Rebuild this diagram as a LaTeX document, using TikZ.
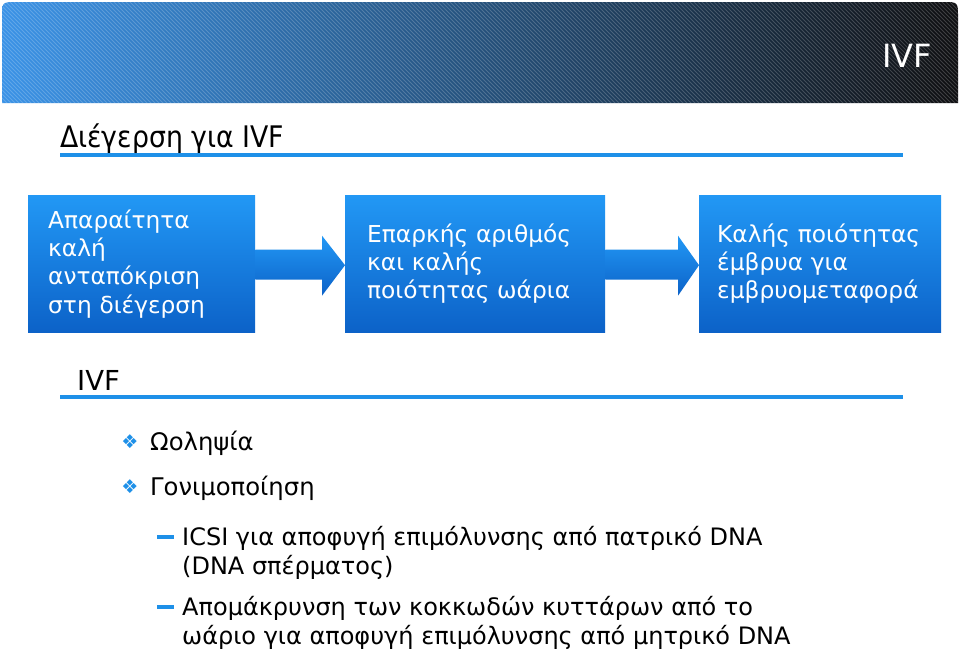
\documentclass[tikz,border=0pt]{standalone}
\usepackage{fontspec}
\setmainfont{DejaVu Sans}
\newfontfamily\condfont{DejaVu Sans Condensed}
\usetikzlibrary{calc}
\definecolor{hdrblue}{RGB}{58,146,230}
\definecolor{hdrmid}{RGB}{30,80,125}
\definecolor{hdrdark}{RGB}{14,14,16}
\definecolor{linebar}{RGB}{30,144,232}
\definecolor{boxtop}{RGB}{34,152,245}
\definecolor{boxbot}{RGB}{12,98,200}
\newcommand\hdrshape{(2,103) -- (2,17) .. controls (2,2) .. (17,2) -- (943,2) .. controls (958,2) .. (958,17) -- (958,103) -- cycle}
\begin{document}
\begin{tikzpicture}[x=1pt,y=-1pt,
  stepbox/.style={top color=boxtop,bottom color=boxbot,draw=none,minimum height=137pt,
    text=white,align=left,anchor=north west,inner ysep=0pt,
    font=\fontsize{23.3}{28.3}\selectfont},
  flowarrow/.style={top color=boxtop,bottom color=boxbot,draw=none},
  rule/.style={draw=linebar,line width=3.5pt},
  plaintext/.style={anchor=base west,inner sep=0pt,text=black},
  diamondmark/.style={anchor=center,inner sep=0pt,text=linebar,font=\fontsize{19}{19}\selectfont},
  dashmark/.style={fill=linebar,inner sep=0pt,minimum width=17pt,minimum height=4pt,anchor=center}]
\useasboundingbox (0,0) rectangle (960,651);
\fill[white] (0,0) rectangle (960,651);
% header
\shade[left color=hdrblue,middle color=hdrmid,right color=hdrdark] \hdrshape;
\begin{scope}
  \clip \hdrshape;
  \foreach \i in {-120,-116,...,960}
    \draw[white,opacity=0.2,line width=0.9pt] (\i,0) -- (\i+110,110);
\end{scope}
\node[anchor=base east,inner sep=0pt,text=white,font=\fontsize{32}{32}\selectfont] (hdr) at (932,67) {IVF};
% title
\node[plaintext,font=\condfont\fontsize{29.7}{29.7}\selectfont] (title) at (60,147) {Διέγερση για IVF};
\draw[rule] (60,155) -- (903,155);
% boxes
\node[stepbox,text width=187pt,inner xsep=20pt] (b1) at (28,195) {Απαραίτητα\\καλή\\ανταπόκριση\\στη διέγερση};
\node[stepbox,text width=216pt,inner xsep=22pt] (b2) at (345,195) {Επαρκής αριθμός\\και καλής\\ποιότητας ωάρια};
\node[stepbox,text width=206pt,inner xsep=18pt] (b3) at (699,195) {Καλής ποιότητας\\έμβρυα για\\εμβρυομεταφορά};
% arrows
\shade[flowarrow] ($(b1.east)+(0,-14)$) -- ($(b2.west)+(-23,-14)$) -- ($(b2.west)+(-23,-28)$) -- ($(b2.west)+(0,1.5)$) -- ($(b2.west)+(-23,32)$) -- ($(b2.west)+(-23,16)$) -- ($(b1.east)+(0,16)$) -- cycle;
\shade[flowarrow] ($(b2.east)+(0,-14)$) -- ($(b3.west)+(-21,-14)$) -- ($(b3.west)+(-21,-28)$) -- ($(b3.west)+(0,1.5)$) -- ($(b3.west)+(-21,32)$) -- ($(b3.west)+(-21,16)$) -- ($(b2.east)+(0,16)$) -- cycle;
% IVF section
\node[plaintext,font=\fontsize{27.5}{27.5}\selectfont] (ivf) at (77,390) {IVF};
\draw[rule] (60,397) -- (903,397);
\node[diamondmark] (d1) at (130,442) {❖};
\node[plaintext,font=\fontsize{24.3}{24.3}\selectfont] (t1) at (150,450) {Ωοληψία};
\node[diamondmark] (d2) at (130,487) {❖};
\node[plaintext,font=\fontsize{24.3}{24.3}\selectfont] (t2) at (150,495) {Γονιμοποίηση};
\node[dashmark] (m1) at (165.5,537) {};
\node[plaintext,align=left,font=\fontsize{24}{29}\selectfont] (s1) at (182,574) {ICSI για αποφυγή επιμόλυνσης από πατρικό DNA\\(DNA σπέρματος)};
\node[dashmark] (m2) at (165.5,607) {};
\node[plaintext,align=left,font=\fontsize{24}{29}\selectfont] (s2) at (182,644) {Απομάκρυνση των κοκκωδών κυττάρων από το\\ωάριο για αποφυγή επιμόλυνσης από μητρικό DNA};
\end{tikzpicture}
\end{document}
